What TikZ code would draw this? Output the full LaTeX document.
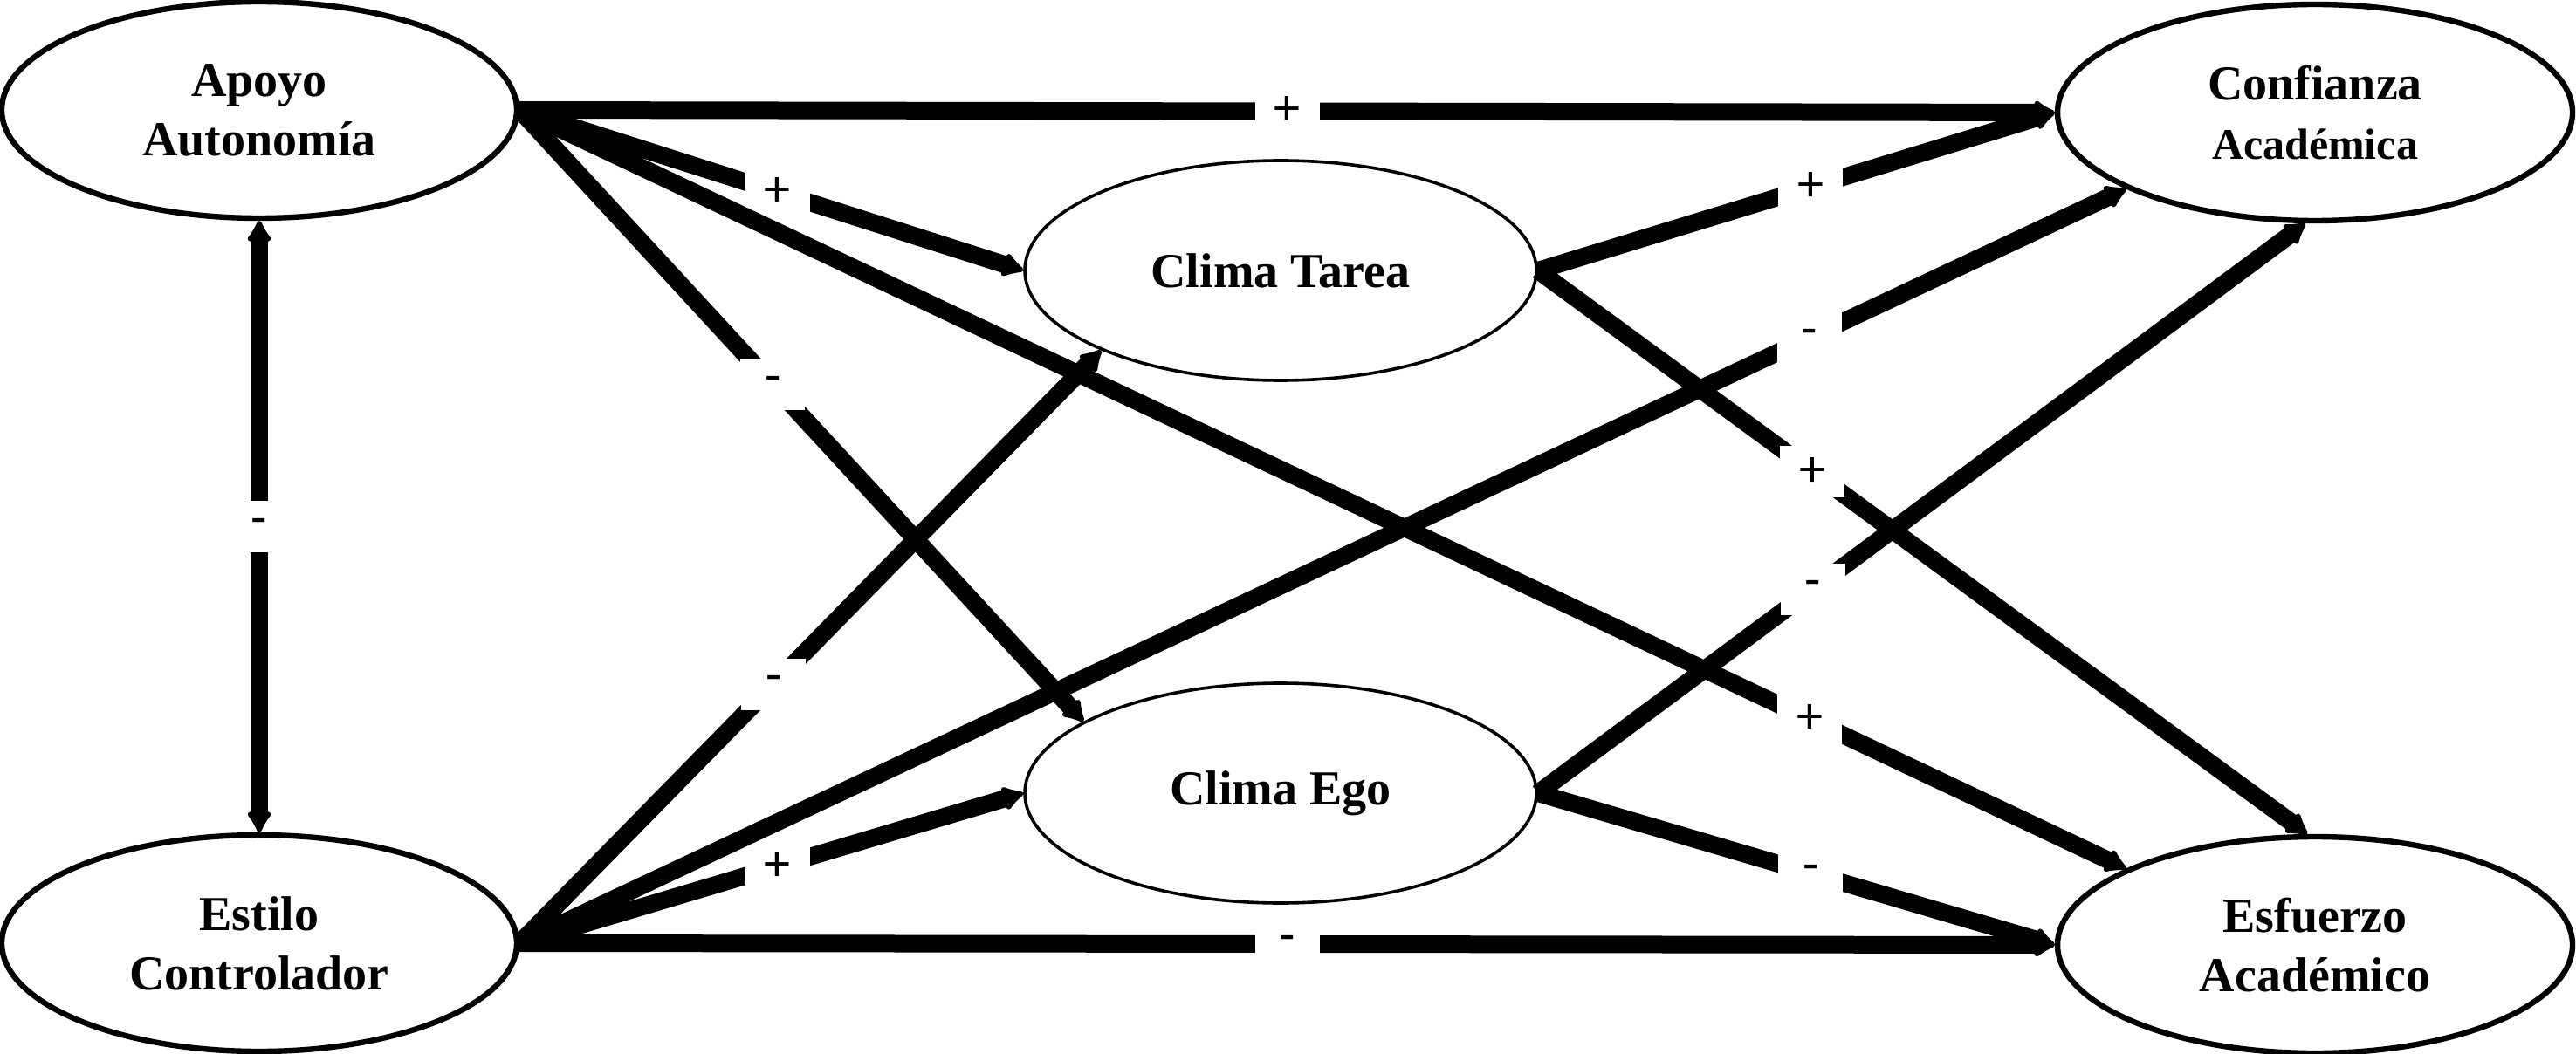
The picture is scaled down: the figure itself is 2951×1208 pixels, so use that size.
\documentclass[tikz,border=0pt]{standalone}
\usepackage{fontspec}
\setmainfont{Liberation Serif}
\newfontfamily\lblfont{Carlito}
\usetikzlibrary{shapes.geometric,arrows.meta}
\begin{document}
\begin{tikzpicture}[x=0.25pt,y=-0.25pt,
  tipa/.tip={Latex[length=7pt,width=8.5pt,round]},
  outerell/.style={ellipse, draw, line width=1.6pt, minimum width=147.5pt, minimum height=62pt,
    inner sep=0pt, align=center, font=\fontsize{14}{17}\selectfont\bfseries},
  innerell/.style={ellipse, draw, line width=0.9pt, minimum width=146.5pt, minimum height=63pt,
    inner sep=0pt, align=center, font=\fontsize{14}{17}\selectfont\bfseries},
  conn/.style={line width=5pt, -tipa},
  biconn/.style={line width=5pt, tipa-tipa},
  lbl/.style={fill=white, inner sep=0pt, minimum width=18.5pt, minimum height=14.75pt,
    font=\lblfont\fontsize{15}{15}\selectfont},
]
\useasboundingbox (0,0) rectangle (2951,1208);
\node[outerell] (A) at (297,126) {Apoyo\\Autonomía};
\node[outerell] (S) at (297,1081) {Estilo\\Controlador};
\node[innerell] (T) at (1467,310) {Clima Tarea};
\node[innerell] (E) at (1467,909) {Clima Ego};
\node[outerell] (C) at (2652,129) {Confianza\\{\fontsize{12.5}{15}\selectfont Académica}};
\node[outerell] (F) at (2652,1083) {Esfuerzo\\Académico};

% from Apoyo
\draw[conn] (A.east) -- node[lbl,pos=0.5]{+} (C.west);
\draw[conn] (A.east) -- node[lbl,pos=0.512]{+} (T.west);
\draw[conn] (A.east) -- node[lbl,pos=0.449]{-} (E.160);
\draw[conn] (A.east) -- node[lbl,pos=0.803]{+} (F.158);
% correlation
\draw[biconn] (S.north) -- node[lbl,pos=0.5]{-} (A.south);
% from Estilo
\draw[conn] (S.east) -- node[lbl,pos=0.437]{-} (T.204);
\draw[conn] (S.east) -- node[lbl,pos=0.512]{+} (E.west);
\draw[conn] (S.east) -- node[lbl,pos=0.803]{-} (C.202);
\draw[conn] (S.east) -- node[lbl,pos=0.5]{-} (F.west);
% from Clima Tarea
\draw[conn] (T.east) -- node[lbl,pos=0.528]{+} (C.west);
\draw[conn] (T.east) -- node[lbl,pos=0.357]{+} (F.94);
% from Clima Ego
\draw[conn] (E.east) -- node[lbl,pos=0.358]{-} (C.265);
\draw[conn] (E.east) -- node[lbl,pos=0.528]{-} (F.west);
\end{tikzpicture}
\end{document}
